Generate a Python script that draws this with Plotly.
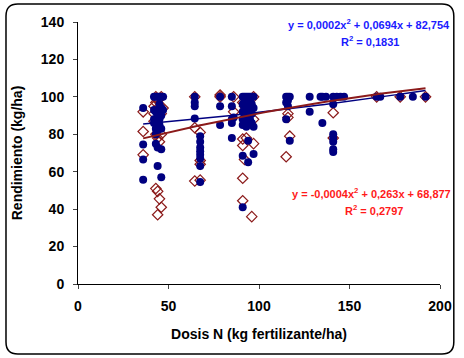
import plotly.graph_objects as go
import numpy as np

# Series 1 (blue filled circles)
blue_x = [36, 36, 36, 36,
          42, 42, 42, 42,
          43, 43, 43, 43, 43,
          44, 44, 44, 44, 44, 44, 44,
          45, 45, 45, 45, 45,
          46, 46, 46, 46, 46, 46,
          47, 47,
          64.5, 64.5, 64.5, 64.5,
          67.5, 67.5, 67.5, 67.5, 67.5, 67.5, 67.5, 67.5,
          78.5, 78.5, 78.5,
          85, 85, 85, 85, 85, 86,
          91, 91, 91, 91, 91, 91, 91,
          92, 92, 92, 92, 92,
          93, 93, 93, 93, 93,
          94, 94, 94, 94, 94, 94,
          95, 95, 95, 95,
          96, 96, 96, 96,
          97, 97, 97, 97,
          115, 115, 115, 116, 116, 116, 117, 117,
          128, 128, 134, 135, 135, 137,
          141, 141, 141, 141, 141, 141, 141,
          143, 145, 147, 165, 167, 178, 185, 192]
blue_y = [94, 74.5, 66.5, 55.7,
          100, 93, 88, 86,
          100, 92, 83, 80, 75,
          100, 93, 90, 86, 82, 73, 63,
          100, 96, 91, 88, 85,
          100, 94, 90, 83, 72, 57,
          100, 93,
          100, 97, 95, 88.5,
          79, 76, 73, 71, 69, 67, 63, 54.5,
          100, 95, 85,
          100, 95, 88, 86, 78, 89,
          100, 96, 92, 88, 85, 68.5, 41,
          100, 98, 94, 90, 86,
          100, 97, 93, 89, 84,
          100, 95, 91, 87, 76.5, 65,
          100, 98, 93, 88,
          100, 96, 91, 86,
          100, 94, 84, 69.5,
          100, 97, 88, 100, 98, 95, 100, 76.5,
          100, 92, 100, 100, 86, 100,
          100, 96, 80, 78, 76, 72, 70.5,
          100, 100, 100, 100, 100, 100, 100, 100]

# Series 2 (red open diamonds)
red_x = [36, 36, 36,
         42, 42, 42,
         43, 43, 43, 43,
         44, 44, 44, 44,
         45, 45, 45,
         46, 46, 46, 46,
         47,
         64.5, 64.5, 64.5,
         67.5, 67.5, 67.5, 67.5,
         78.5, 78.5,
         86, 86,
         91, 91, 91, 91, 91,
         92, 92, 93, 96,
         97, 97, 97,
         116, 116, 117, 115,
         141, 141,
         165, 178, 192]
red_y = [92, 81.5, 69,
         95, 91, 87,
         100, 97, 80, 51,
         98, 78, 49.5, 37,
         95, 76, 45.5,
         100, 91, 80, 41,
         94,
         100, 83.5, 55,
         81, 66, 64, 55.5,
         101, 100,
         100, 92,
         97, 77.5, 74, 56.5, 44.5,
         95, 66.5, 78, 36,
         88, 75, 100,
         91, 89, 79, 68,
         91.5, 78,
         100, 100, 100]

# Trendline coefficients (as printed on the chart)
blue_coef = [0.0002, 0.0694, 82.754]
red_coef = [-0.0004, 0.263, 68.877]
trend_x_range = [36, 192]

x_ticks = [0, 50, 100, 150, 200]
y_ticks = [0, 20, 40, 60, 80, 100, 120, 140]

BLUE = "#000080"
RED = "#8B1A1A"
FONT = "Liberation Sans, Arial, sans-serif"

tx = np.linspace(trend_x_range[0], trend_x_range[1], 100)

fig = go.Figure()
fig.add_trace(go.Scatter(x=red_x, y=red_y, mode="markers",
                         marker=dict(symbol="diamond-open", size=8, color=RED,
                                     line=dict(width=1.2, color=RED)),
                         showlegend=False))
fig.add_trace(go.Scatter(x=blue_x, y=blue_y, mode="markers",
                         marker=dict(symbol="circle", size=8, color=BLUE),
                         showlegend=False))
fig.add_trace(go.Scatter(x=tx, y=np.polyval(blue_coef, tx), mode="lines",
                         line=dict(color=BLUE, width=1.5), showlegend=False))
fig.add_trace(go.Scatter(x=tx, y=np.polyval(red_coef, tx), mode="lines",
                         line=dict(color=RED, width=2), showlegend=False))

W, H = 464, 358
ml, mr, mt, mb = 78, 19, 22, 74
pw, ph = W - ml - mr, H - mt - mb

def px2paper(px, py):
    return (px - ml) / pw, (H - mb - py) / ph

# rounded border around the whole chart
x0, y0, x1, y1, r = 5, 4, 459, 354, 12
def P(px, py):
    a, b = px2paper(px, py)
    return f"{a:.5f},{b:.5f}"
path = (f"M {P(x0 + r, y0)} L {P(x1 - r, y0)} Q {P(x1, y0)} {P(x1, y0 + r)} "
        f"L {P(x1, y1 - r)} Q {P(x1, y1)} {P(x1 - r, y1)} "
        f"L {P(x0 + r, y1)} Q {P(x0, y1)} {P(x0, y1 - r)} "
        f"L {P(x0, y0 + r)} Q {P(x0, y0)} {P(x0 + r, y0)} Z")
fig.add_shape(type="path", path=path, xref="paper", yref="paper",
              line=dict(color="black", width=1.5), layer="below")

def ann(text, px, py, color, anchor="center"):
    a, b = px2paper(px, py)
    fig.add_annotation(text=text, x=a, y=b, xref="paper", yref="paper",
                       showarrow=False, xanchor=anchor, yanchor="middle",
                       font=dict(family=FONT, size=11, color=color, weight="bold"))

ann("y = 0,0002x<sup>2</sup> + 0,0694x + 82,754", 457, 24, "#1a1aff", "right")
ann("R<sup>2</sup> = 0,1831", 374, 41, "#1a1aff")
ann("y = -0,0004x<sup>2</sup> + 0,263x + 68,877", 458, 193, "#ff1a1a", "right")
ann("R<sup>2</sup> = 0,2797", 378, 210, "#ff1a1a")

fig.update_layout(
    width=W, height=H,
    margin=dict(l=ml, r=mr, t=mt, b=mb),
    paper_bgcolor="white", plot_bgcolor="white",
    font=dict(family=FONT, color="black"),
    xaxis=dict(range=[0, 200], tickvals=x_ticks, ticks="outside", ticklen=4,
               ticklabelstandoff=5,
               showline=True, linecolor="black", linewidth=1, showgrid=False,
               zeroline=False, tickfont=dict(size=14, weight="bold"),
               title=dict(text="Dosis N (kg fertilizante/ha)",
                          font=dict(size=14, weight="bold"), standoff=16)),
    yaxis=dict(range=[0, 140], tickvals=y_ticks, ticks="outside", ticklen=4,
               ticklabelstandoff=6,
               showline=True, linecolor="black", linewidth=1, showgrid=False,
               zeroline=False, tickfont=dict(size=14, weight="bold"),
               title=dict(text="Rendimiento (kg/ha)",
                          font=dict(size=14, weight="bold"), standoff=14)),
)

fig.write_html("out.html", config={"displayModeBar": False},
               post_script="document.body.style.margin='0px';document.body.style.overflow='hidden';")
